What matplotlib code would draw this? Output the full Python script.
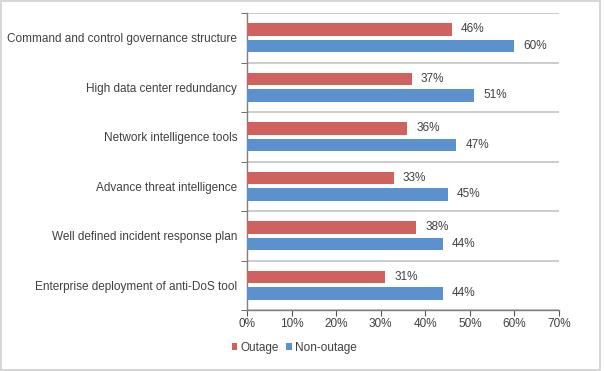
import numpy as np
import matplotlib.pyplot as plt
from matplotlib.patches import Rectangle

plt.rcParams['font.family'] = ['Liberation Sans', 'DejaVu Sans']

categories = ['Command and control governance structure',
              'High data center redundancy',
              'Network intelligence tools',
              'Advance threat intelligence',
              'Well defined incident response plan',
              'Enterprise deployment of anti-DoS tool']
outage = [46, 37, 36, 33, 38, 31]
non_outage = [60, 51, 47, 45, 44, 44]

red = '#CF615E'
blue = '#5B91CC'
txt = '#404040'
fs = 8.5

fig = plt.figure(figsize=(6.04, 3.71), dpi=100)
ax = fig.add_axes([247/604, 1-310/371, 312/604, 297/371])

y = np.arange(len(categories))
h = 0.25
ax.barh(y - 0.17, outage, height=h, color=red, label='Outage', zorder=3)
ax.barh(y + 0.165, non_outage, height=h, color=blue, label='Non-outage', zorder=3)

for yi, v in zip(y, outage):
    ax.text(v + 2.0, yi - 0.17, f'{v}%', va='center', ha='left', fontsize=fs, color=txt)
for yi, v in zip(y, non_outage):
    ax.text(v + 2.0, yi + 0.165, f'{v}%', va='center', ha='left', fontsize=fs, color=txt)

ax.set_xlim(0, 70)
ax.set_ylim(len(categories) - 0.5, -0.5)
ax.set_xticks(range(0, 71, 10))
ax.set_xticklabels([f'{t}%' for t in range(0, 71, 10)], fontsize=fs, color=txt)

# category labels centred, ticks at boundaries
ax.set_yticks(y)
ax.set_yticklabels(categories, fontsize=fs, color=txt)
ax.tick_params(axis='y', length=0, pad=7)
ax.set_yticks(np.arange(-0.5, len(categories), 1), minor=True)
ax.tick_params(axis='y', which='minor', length=4, color='#555555')
ax.tick_params(axis='x', length=4, color='#555555', pad=2)
ax.grid(axis='y', which='minor', color='#C8C8C8', linewidth=1.3, zorder=0)

for s in ['top', 'right']:
    ax.spines[s].set_visible(False)
for s in ['left', 'bottom']:
    ax.spines[s].set_color('#7F7F7F')
    ax.spines[s].set_linewidth(1)

leg = fig.legend(loc='center', bbox_to_anchor=(294/604, 1-348/371), ncol=2,
                 frameon=False, fontsize=fs, handlelength=0.5, handleheight=0.5,
                 handletextpad=0.25, columnspacing=0.6)
for t in leg.get_texts():
    t.set_color(txt)

fig.patches.append(Rectangle((0.001, 0.004), 0.993, 0.994, transform=fig.transFigure,
                             fill=False, edgecolor='#D0D0D0', linewidth=1.2))

fig.savefig('out.png', dpi=100)
